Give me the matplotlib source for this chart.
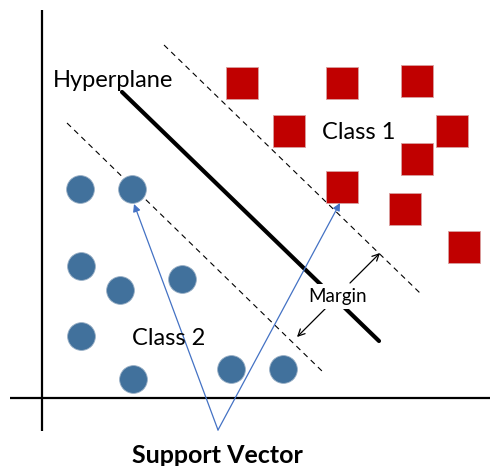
import matplotlib

matplotlib.use("Agg")
import matplotlib.pyplot as plt

# diagram coordinates (pixel-like units, y grows downward)
class1_x = [242, 342, 417, 289, 452, 417, 342, 405, 464]
class1_y = [83, 83, 81, 131, 131, 159, 187, 209, 247]
class2_x = [80, 132, 81, 120, 182, 81, 133, 231, 283]
class2_y = [189, 189, 266, 290, 279, 336, 379, 369, 369]

hyperplane_x = [122, 379]
hyperplane_y = [92, 341]
upper_margin_x = [164, 421]
upper_margin_y = [45, 294]
lower_margin_x = [67, 323]
lower_margin_y = [123, 372]

sv_apex = (218, 430)
sv_targets = [(134, 204), (340, 203)]

RED = "#C00000"
BLUE = "#41719C"
ARROW_BLUE = "#4472C4"

fig = plt.figure(figsize=(4.9, 4.66), dpi=100)
ax = fig.add_axes([0, 0, 1, 1])
ax.set_xlim(0, 490)
ax.set_ylim(466, 0)
ax.axis("off")

# axes of the diagram
ax.plot([42, 42], [10, 431], color="black", lw=1.6, solid_capstyle="butt")
ax.plot([10, 490], [398, 398], color="black", lw=1.6, solid_capstyle="butt")

# hyperplane and margins
ax.plot(hyperplane_x, hyperplane_y, color="black", lw=3, solid_capstyle="round", zorder=2)
ax.plot(upper_margin_x, upper_margin_y, color="black", lw=0.8, ls=(0, (5, 4)), zorder=2)
ax.plot(lower_margin_x, lower_margin_y, color="black", lw=0.8, ls=(0, (5, 4)), zorder=2)

# points
ax.scatter(class1_x, class1_y, s=500, marker="s", color=RED, edgecolor="#d9a0a0",
           linewidth=0.6, zorder=3)
ax.scatter(class2_x, class2_y, s=400, marker="o", color=BLUE, edgecolor="#9ab0c6",
           linewidth=0.6, zorder=3)

# support vector arrows
for tx, ty in sv_targets:
    ax.annotate("", xy=(tx, ty), xytext=sv_apex,
                arrowprops=dict(arrowstyle="-|>", color=ARROW_BLUE, lw=0.9,
                                mutation_scale=11, shrinkA=0, shrinkB=0),
                zorder=4)

# margin arrows
ax.annotate("", xy=(380, 253), xytext=(350, 283),
            arrowprops=dict(arrowstyle="->", color="black", lw=0.9,
                            mutation_scale=12, shrinkA=0, shrinkB=0))
ax.annotate("", xy=(297, 337), xytext=(326, 308),
            arrowprops=dict(arrowstyle="->", color="black", lw=0.9,
                            mutation_scale=12, shrinkA=0, shrinkB=0))

font = "Lato"
ax.text(53, 87, "Hyperplane", fontsize=17, family=font, va="baseline", ha="left")
ax.text(322, 139, "Class 1", fontsize=17, family=font, va="baseline", ha="left")
ax.text(132, 345, "Class 2", fontsize=17, family=font, va="baseline", ha="left", zorder=5)
ax.text(338, 302, "Margin", fontsize=13.5, family=font, va="baseline", ha="center",
        zorder=5, bbox=dict(facecolor="white", edgecolor="none", pad=3))
ax.text(217, 463, "Support Vector", fontsize=18, family=font, fontweight="bold",
        va="baseline", ha="center")

fig.savefig("out.png", dpi=100)
